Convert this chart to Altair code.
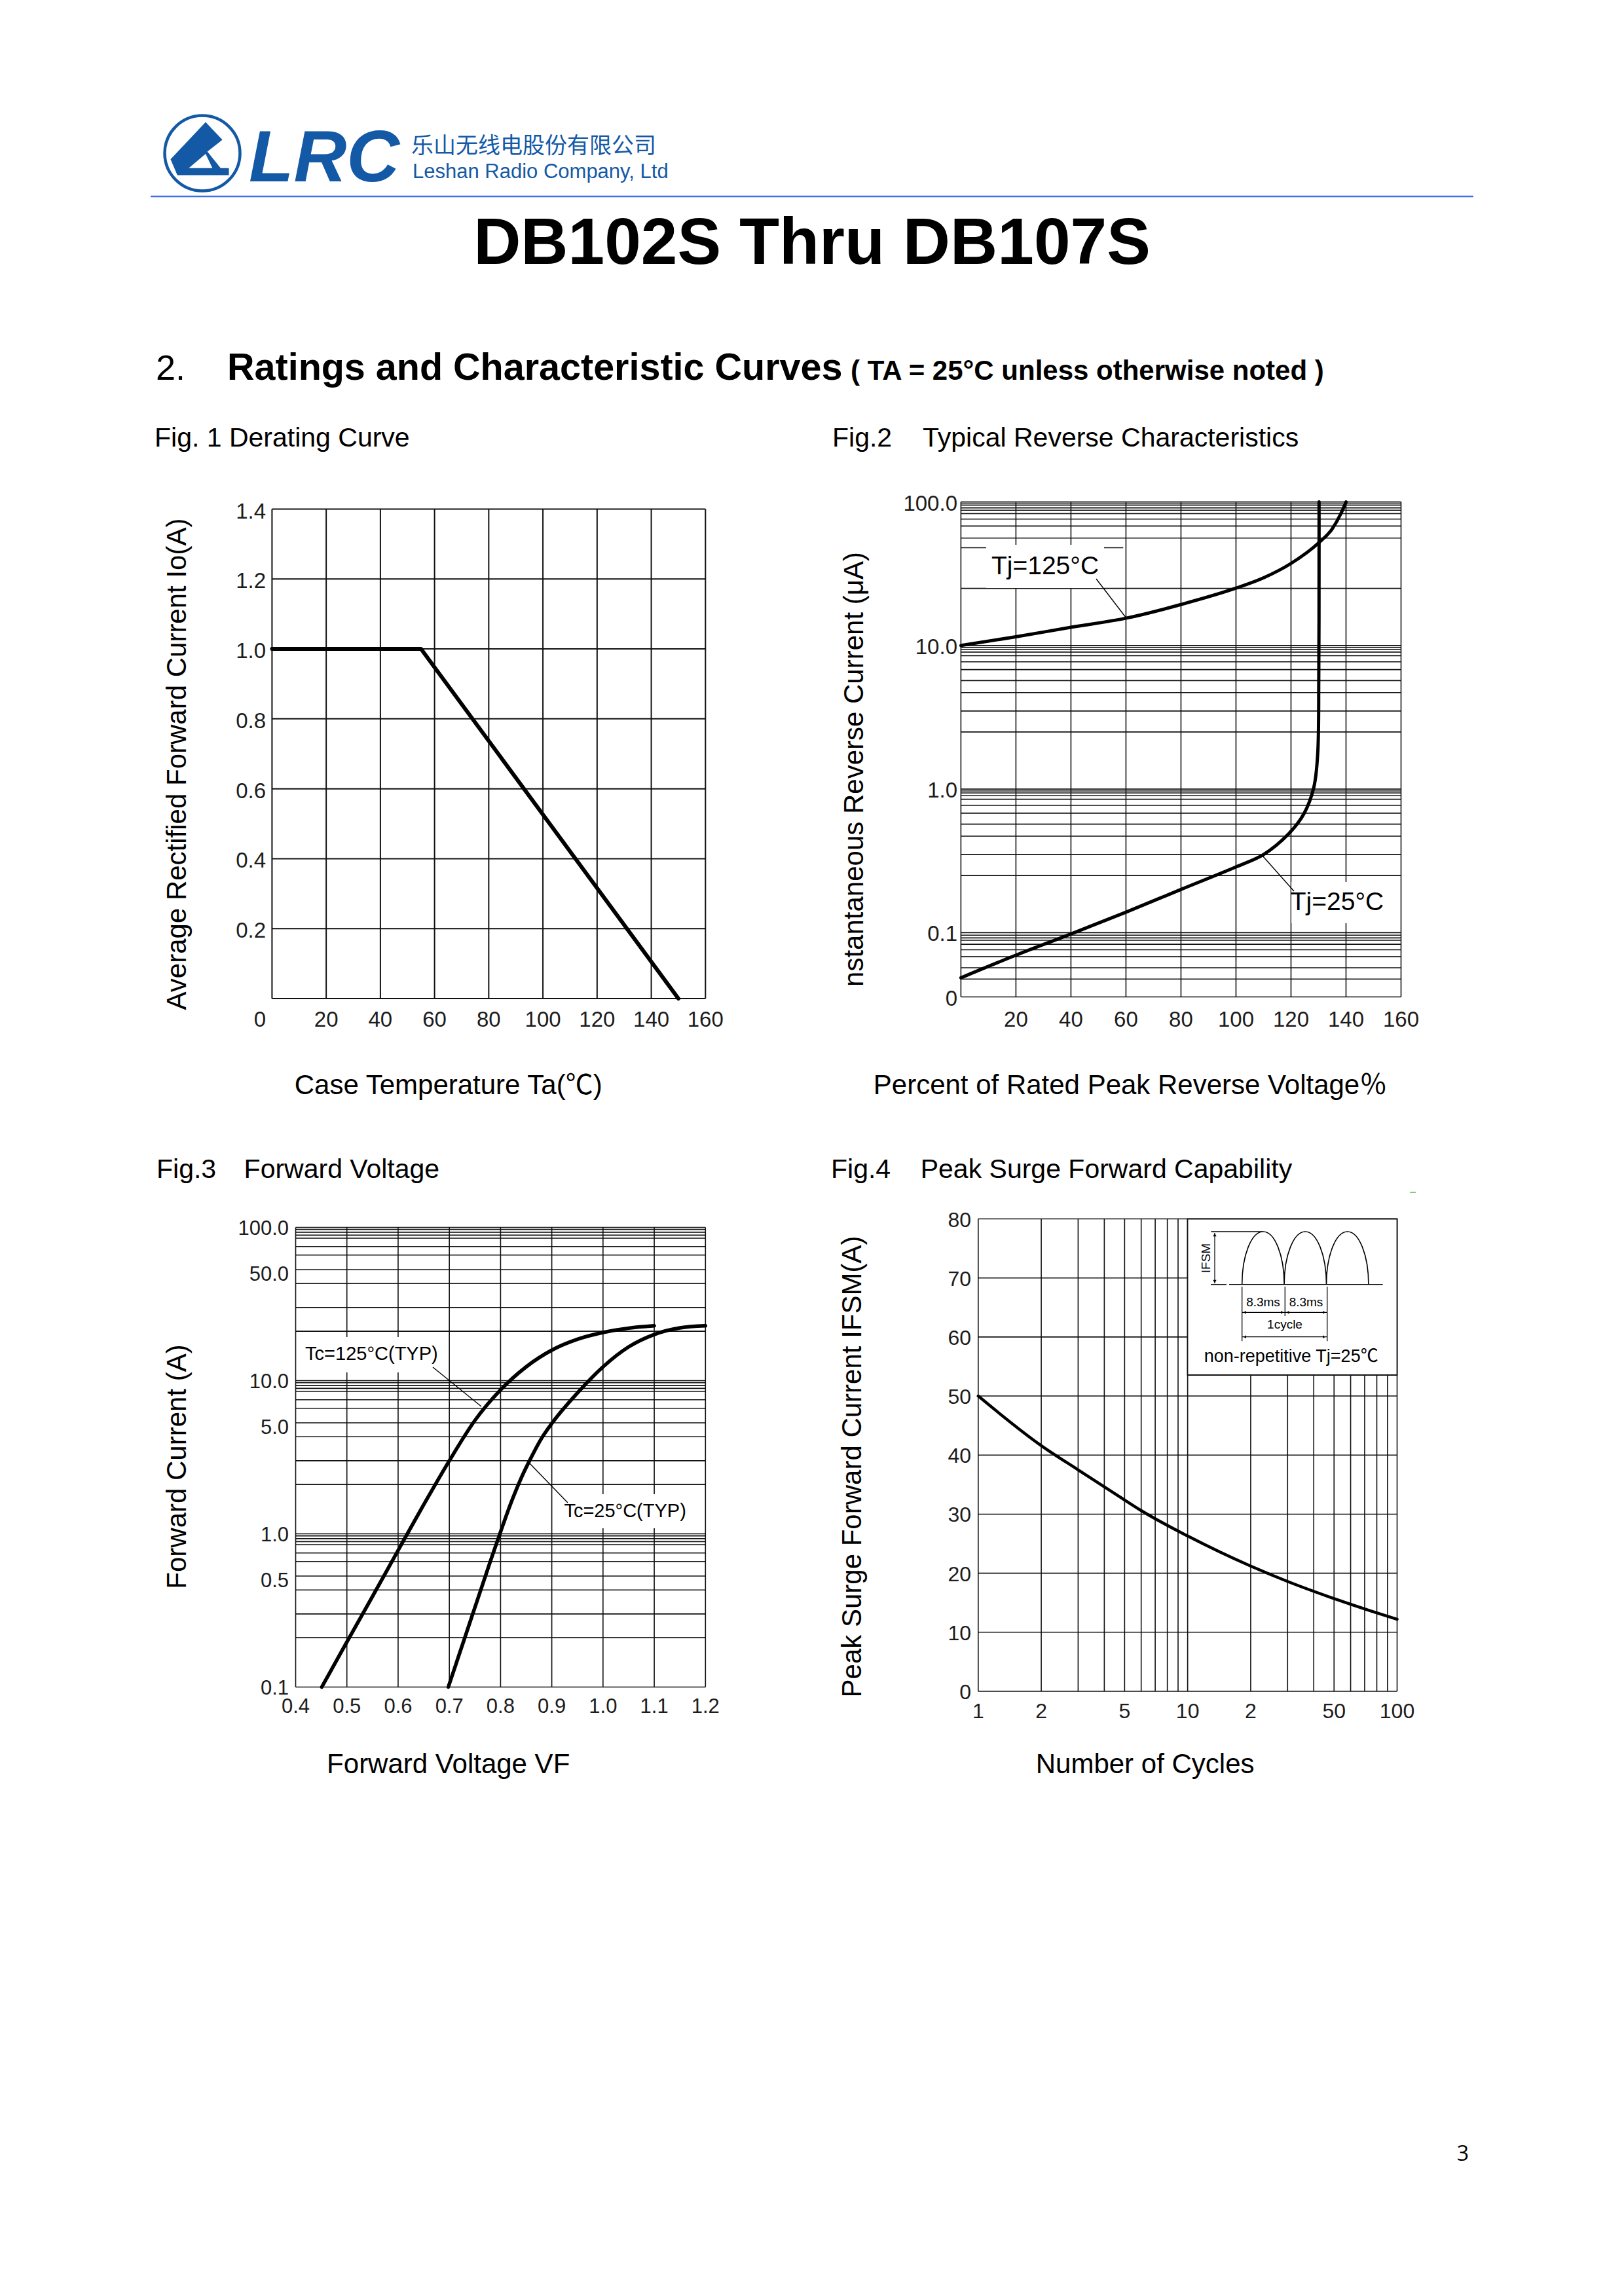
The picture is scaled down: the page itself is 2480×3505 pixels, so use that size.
import altair as alt
import pandas as pd

M = 8  # page margin of the html page

# ---------------- data ----------------
# Fig.1  Derating curve
f1_temp = [0, 55, 150]
f1_io = [1.0, 1.0, 0.0]
f1_xgrid = [0, 20, 40, 60, 80, 100, 120, 140, 160]
f1_ygrid = [0.0, 0.2, 0.4, 0.6, 0.8, 1.0, 1.2, 1.4]
f1_xticks = [20, 40, 60, 80, 100, 120, 140, 160]
f1_xtick_labels = ["20", "40", "60", "80", "100", "120", "140", "160"]
f1_yticks = [0.2, 0.4, 0.6, 0.8, 1.0, 1.2, 1.4]
f1_ytick_labels = ["0.2", "0.4", "0.6", "0.8", "1.0", "1.2", "1.4"]

# Fig.2  Typical reverse characteristics
f2_pct_125 = [0, 20, 40, 60, 80, 100, 110, 120, 130, 135, 138, 140]
f2_ir_125 = [10, 11.5, 13.4, 15.5, 19.3, 25.1, 29.6, 37.3, 51.8, 65, 82, 100]
f2_pct_25 = [0, 20, 40, 60, 80, 100, 110, 119, 124.7, 128.3, 129.7, 130.1, 130.2, 130.2]
f2_ir_25 = [0.0485, 0.0697, 0.098, 0.139, 0.2, 0.287, 0.35, 0.485, 0.674, 1.03, 1.75, 6.1, 44, 100]
f2_xgrid = [0, 20, 40, 60, 80, 100, 120, 140, 160]
f2_ygrid = [0.0357, 0.0475, 0.057, 0.068, 0.076, 0.083, 0.0885, 0.092, 0.096,
            0.1, 0.25, 0.35, 0.47, 0.57, 0.68, 0.77, 0.85, 0.90, 0.94, 0.97,
            1.0, 2.5, 3.5, 4.7, 5.7, 6.8, 7.7, 8.5, 9.0, 9.4, 9.7,
            10, 25, 56, 68, 76, 83, 87.5, 91, 95, 97, 100]
f2_ygrid_partial = [48]
f2_xticks = [20, 40, 60, 80, 100, 120, 140, 160]
f2_xtick_labels = ["20", "40", "60", "80", "100", "120", "140", "160"]
f2_yticks = [0.0357, 0.1, 1, 10, 100]
f2_ytick_labels = ["0", "0.1", "1.0", "10.0", "100.0"]

# Fig.3  Forward voltage
f3_vf_125 = [0.451, 0.5, 0.55, 0.6, 0.65, 0.7, 0.75, 0.8, 0.85, 0.9, 0.95, 1.0, 1.05, 1.1]
f3_if_125 = [0.1, 0.197, 0.39, 0.78, 1.55, 3.0, 5.5, 8.7, 12.3, 15.8, 18.6, 20.6, 22.0, 22.8]
f3_vf_25 = [0.698, 0.72, 0.74, 0.76, 0.78, 0.80, 0.82, 0.84, 0.86, 0.88, 0.9, 0.95, 1.0,
            1.05, 1.1, 1.15, 1.2]
f3_if_25 = [0.1, 0.166, 0.263, 0.417, 0.66, 1.03, 1.58, 2.3, 3.16, 4.2, 5.25, 8.3, 12.3,
            16.6, 20.0, 22.1, 22.8]
f3_xgrid = [0.4, 0.5, 0.6, 0.7, 0.8, 0.9, 1.0, 1.1, 1.2]
f3_ygrid = [0.1, 0.21, 0.30, 0.43, 0.53, 0.66, 0.75, 0.85, 0.89, 0.93, 0.97,
            1.0, 2.1, 3.0, 4.3, 5.3, 6.6, 7.5, 8.5, 8.9, 9.3, 9.7,
            10, 21, 30, 43, 53, 66, 75, 85, 89, 93, 97, 100]
f3_xticks = [0.4, 0.5, 0.6, 0.7, 0.8, 0.9, 1.0, 1.1, 1.2]
f3_xtick_labels = ["0.4", "0.5", "0.6", "0.7", "0.8", "0.9", "1.0", "1.1", "1.2"]
f3_yticks = [0.1, 0.5, 1, 5, 10, 50, 100]
f3_ytick_labels = ["0.1", "0.5", "1.0", "5.0", "10.0", "50.0", "100.0"]

# Fig.4  Peak surge forward capability
f4_cycles = [1, 2, 3, 5, 6, 10, 20, 30, 50, 75, 100]
f4_ifsm = [50, 41.6, 37.5, 32.4, 30.6, 26.3, 21.2, 18.6, 15.7, 13.6, 12.2]
f4_xgrid = [1, 2, 3, 4, 5, 6, 7, 8, 9, 10, 20, 30, 40, 50, 60, 70, 80, 90, 100]
f4_ygrid = [0, 10, 20, 30, 40, 50, 60, 70, 80]
f4_xticks = [1, 2, 5, 10, 20, 50, 100]
f4_xtick_labels = ["1", "2", "5", "10", "2", "50", "100"]
f4_yticks = [0, 10, 20, 30, 40, 50, 60, 70, 80]
f4_ytick_labels = ["0", "10", "20", "30", "40", "50", "60", "70", "80"]

# ---------------- styles ----------------
SANS = "Liberation Sans, Arial, Noto Sans CJK SC, sans-serif"
NARROW = SANS
CJK = "Noto Sans CJK SC, sans-serif"
BLUE = "#1459a6"
RULE_BLUE = "#3d70e8"
GRID = "#111111"
TICK = "#1c1c1c"


def px(v):
    return v - M


# panels: domain / pixel range of the scales
P1 = dict(xt="linear", xd=[0, 160], xr=[px(415.4), px(1077.3)],
          yt="linear", yd=[0, 1.4], yr=[px(1525), px(777.5)])
P2 = dict(xt="linear", xd=[0, 160], xr=[px(1467.4), px(2139.5)],
          yt="log", yd=[0.0357, 100], yr=[px(1522.5), px(766.6)])
P3 = dict(xt="linear", xd=[0.4, 1.2], xr=[px(451.5), px(1077.3)],
          yt="log", yd=[0.1, 100], yr=[px(2576.5), px(1874.5)])
P4 = dict(xt="log", xd=[1, 100], xr=[px(1493.8), px(2133.5)],
          yt="linear", yd=[0, 80], yr=[px(2583), px(1861.5)])


def sc(t, d, r):
    if t == "log":
        return alt.Scale(type="log", domain=d, range=r, nice=False)
    return alt.Scale(type=t, domain=d, range=r, nice=False, zero=False)


def ex(P, f):
    return alt.X(f, type="quantitative", scale=sc(P["xt"], P["xd"], P["xr"]), axis=None)


def ey(P, f):
    return alt.Y(f, type="quantitative", scale=sc(P["yt"], P["yd"], P["yr"]), axis=None)


def vgrid(P, vals, w=1.6):
    df = pd.DataFrame({"v": vals, "lo": P["yd"][0], "hi": P["yd"][1]})
    return alt.Chart(df).mark_rule(color=GRID, strokeWidth=w).encode(
        x=ex(P, "v"), y=ey(P, "lo"), y2=alt.Y2("hi"))


def hgrid(P, vals, w=1.6, lo=None, hi=None):
    lo = P["xd"][0] if lo is None else lo
    hi = P["xd"][1] if hi is None else hi
    df = pd.DataFrame({"v": vals, "lo": lo, "hi": hi})
    return alt.Chart(df).mark_rule(color=GRID, strokeWidth=w).encode(
        y=ey(P, "v"), x=ex(P, "lo"), x2=alt.X2("hi"))


def curve(P, xs, ys, w, interp="monotone"):
    df = pd.DataFrame({"x": xs, "y": ys, "i": list(range(len(xs)))})
    return alt.Chart(df).mark_line(color="black", strokeWidth=w, interpolate=interp,
                                   strokeCap="round", strokeJoin="round").encode(
        x=ex(P, "x"), y=ey(P, "y"), order=alt.Order("i:Q"))


def xlabels(P, vals, labs, ypix, size):
    df = pd.DataFrame({"v": vals, "t": labs})
    return alt.Chart(df).mark_text(font=NARROW, fontSize=size, color=TICK,
                                   align="center", baseline="middle").encode(
        x=ex(P, "v"), y=alt.value(px(ypix)), text="t:N")


def ylabels(P, vals, labs, xpix, size, dy=0):
    df = pd.DataFrame({"v": vals, "t": labs})
    return alt.Chart(df).mark_text(font=NARROW, fontSize=size, color=TICK,
                                   align="right", baseline="middle", dy=dy).encode(
        y=ey(P, "v"), x=alt.value(px(xpix)), text="t:N")


def txt(s, x, y, size, font=SANS, weight="normal", align="left", baseline="alphabetic",
        angle=0, color="black", style="normal"):
    return alt.Chart(pd.DataFrame({"t": [s]})).mark_text(
        font=font, fontSize=size, fontWeight=weight, fontStyle=style, align=align,
        baseline=baseline, angle=angle, color=color).encode(
        x=alt.value(px(x)), y=alt.value(px(y)), text="t:N")


def seg(x1, y1, x2, y2, w=1.4, color="black"):
    return alt.Chart(pd.DataFrame({"a": [0]})).mark_rule(color=color, strokeWidth=w).encode(
        x=alt.value(px(x1)), y=alt.value(px(y1)), x2=alt.value(px(x2)), y2=alt.value(px(y2)))


def box(x1, y1, x2, y2, stroke=None, w=1.6):
    kw = dict(fill="white")
    if stroke:
        kw.update(stroke=stroke, strokeWidth=w)
    return alt.Chart(pd.DataFrame({"a": [0]})).mark_rect(**kw).encode(
        x=alt.value(px(x1)), y=alt.value(px(y1)), x2=alt.value(px(x2)), y2=alt.value(px(y2)))


def symbol(shape, x, y, size, fill=None, stroke=None, w=1.5):
    kw = dict(shape=shape, size=size, opacity=1)
    if fill:
        kw.update(filled=True, fill=fill, strokeWidth=0)
    else:
        kw.update(filled=False, stroke=stroke, strokeWidth=w, fillOpacity=0)
    return alt.Chart(pd.DataFrame({"a": [0]})).mark_point(**kw).encode(
        x=alt.value(px(x)), y=alt.value(px(y)))


layers = []

# ---------------- header ----------------
LOGO = ("M -0.99 0.36 L 0.20 -0.90 L 0.77 -0.30 L 0.26 0.10 L 0.71 0.66 "
        "L 0.99 0.66 L 0.99 0.90 L -0.76 0.90 Z")
LOGO_HOLE = "M -0.37 0.66 L 0.20 0.18 L 0.43 0.66 Z"
layers += [
    symbol("circle", 309, 234, 115 * 115, stroke=BLUE, w=4.5),
    symbol(LOGO, 305, 227, 90 * 90, fill=BLUE),
    symbol(LOGO_HOLE, 305, 227, 90 * 90, fill="white"),
    txt("LRC", 380, 277, 112, weight="bold", style="italic", color=BLUE),
    txt("乐山无线电股份有限公司", 628, 224, 34, font=CJK, baseline="middle", color=BLUE),
    txt("Leshan Radio Company, Ltd", 630, 272, 31, color=BLUE),
    seg(230, 300, 2250, 300, w=2.5, color=RULE_BLUE),
    txt("DB102S Thru DB107S", 1240, 403, 100, weight="bold", align="center"),
    txt("2.", 238, 580, 54),
    txt("Ratings and Characteristic Curves", 347, 580, 57.5, weight="bold"),
    txt("( TA = 25°C unless otherwise noted )", 1299, 580, 42, weight="bold"),
    txt("Fig. 1 Derating Curve", 236, 682, 41),
    txt("Fig.2", 1271, 682, 41),
    txt("Typical Reverse Characteristics", 1409, 682, 41),
    txt("Fig.3", 239, 1799, 41),
    txt("Forward Voltage", 372.6, 1799, 41),
    txt("Fig.4", 1269, 1799, 41),
    txt("Peak Surge Forward Capability", 1405.7, 1799, 41),
    txt("3", 2234, 3300, 32, font="Open Sans, Noto Sans, sans-serif", align="center"),
    seg(2153, 1821, 2162, 1821, w=1.5, color="#5cb85c"),
]

# ---------------- Fig.1 ----------------
layers += [
    vgrid(P1, f1_xgrid, w=2),
    hgrid(P1, f1_ygrid, w=2),
    curve(P1, f1_temp, f1_io, 6, interp="linear"),
    xlabels(P1, f1_xticks, f1_xtick_labels, 1557.5, 33),
    txt("0", 397, 1557.5, 33, font=NARROW, align="center", baseline="middle", color=TICK),
    ylabels(P1, f1_yticks, f1_ytick_labels, 406, 33, dy=4),
    txt("Case Temperature Ta(℃)", 684.7, 1657.5, 42, align="center", baseline="middle"),
    txt("Average Rectified Forward Current Io(A)", 271, 1167, 42, align="center",
        baseline="middle", angle=270),
]

# ---------------- Fig.2 ----------------
layers += [
    vgrid(P2, f2_xgrid),
    hgrid(P2, f2_ygrid),
    hgrid(P2, f2_ygrid_partial, hi=59),
    box(1506, 832, 1686, 898),
    box(1972, 1347, 2112, 1410),
    seg(1674, 884, 1720, 944),
    seg(1928, 1307, 1976, 1361),
    curve(P2, f2_pct_125, f2_ir_125, 5),
    curve(P2, f2_pct_25, f2_ir_25, 5, interp="catmull-rom"),
    txt("Tj=125°C", 1596, 865, 39, align="center", baseline="middle"),
    txt("Tj=25°C", 2042, 1378, 39, align="center", baseline="middle"),
    xlabels(P2, f2_xticks, f2_xtick_labels, 1557.5, 33),
    ylabels(P2, f2_yticks, f2_ytick_labels, 1462, 33, dy=3),
    txt("Percent of Rated Peak Reverse Voltage％", 1726, 1657.5, 42, align="center",
        baseline="middle"),
    txt("nstantaneous Reverse Current (μA)", 1305, 1175, 42, align="center",
        baseline="middle", angle=270),
]

# ---------------- Fig.3 ----------------
layers += [
    vgrid(P3, f3_xgrid),
    hgrid(P3, f3_ygrid),
    box(466, 2042, 668, 2096),
    box(862, 2282, 1047, 2334),
    seg(661, 2088, 735, 2148),
    seg(808, 2234, 867, 2295),
    curve(P3, f3_vf_125, f3_if_125, 5.5),
    curve(P3, f3_vf_25, f3_if_25, 5.5),
    txt("Tc=125°C(TYP)", 567.4, 2068.4, 29, font=NARROW, align="center", baseline="middle"),
    txt("Tc=25°C(TYP)", 954.6, 2307.6, 29, font=NARROW, align="center", baseline="middle"),
    xlabels(P3, f3_xticks, f3_xtick_labels, 2607.3, 31),
    ylabels(P3, f3_yticks, f3_ytick_labels, 441, 31, dy=2),
    txt("Forward Voltage VF", 684.7, 2694.7, 42, align="center", baseline="middle"),
    txt("Forward Current (A)", 271, 2240, 42, align="center", baseline="middle", angle=270),
]

# ---------------- Fig.4 ----------------
k = 0.5523
hump_x = [-0.966, -0.322, 0.322, 0.966]
b, h, a = 0.4035, 0.807, 0.322
wave = "M %.3f %.3f" % (hump_x[0], b)
for x0 in hump_x[:3]:
    wave += (" C %.3f %.3f %.3f %.3f %.3f %.3f" % (x0, b - k * h, x0 + a - k * a, b - h, x0 + a, b - h))
    wave += (" C %.3f %.3f %.3f %.3f %.3f %.3f" % (x0 + a + k * a, b - h, x0 + 2 * a, b - k * h, x0 + 2 * a, b))

layers += [
    vgrid(P4, f4_xgrid),
    hgrid(P4, f4_ygrid),
    box(1813.5, 1861.5, 2133.5, 2100, stroke=GRID, w=1.8),
    curve(P4, f4_cycles, f4_ifsm, 4.5),
    xlabels(P4, f4_xticks, f4_xtick_labels, 2613.7, 32),
    ylabels(P4, f4_yticks, f4_ytick_labels, 1483, 32, dy=2),
    txt("Number of Cycles", 1748.6, 2694.7, 42, align="center", baseline="middle"),
    txt("Peak Surge Forward Current IFSM(A)", 1302, 2240, 42, align="center",
        baseline="middle", angle=270),
    # inset
    symbol(wave, 1993.3, 1921.35, 200 * 200, stroke="black", w=1.6),
    seg(1849, 1961.7, 1873, 1961.7, w=1.3),
    seg(1877, 1961.7, 2111.7, 1961.7, w=1.3),
    seg(1849.3, 1881, 1928, 1881, w=1.3),
    seg(1855, 1883, 1855, 1960, w=1.2),
    symbol("triangle-up", 1855, 1886, 30, fill="black"),
    symbol("triangle-down", 1855, 1957, 30, fill="black"),
    txt("IFSM", 1842, 1921.5, 19, font=NARROW, align="center", baseline="middle", angle=270),
    seg(1896.7, 1965, 1896.7, 2048.3, w=1.3),
    seg(1962.3, 1965, 1962.3, 2010, w=1.3),
    seg(2026.7, 1965, 2026.7, 2048.3, w=1.3),
    txt("8.3ms", 1929, 1989.3, 19, font=NARROW, align="center", baseline="middle"),
    txt("8.3ms", 1994.5, 1989.3, 19, font=NARROW, align="center", baseline="middle"),
    seg(1897, 2004.3, 2026, 2004.3, w=1.2),
    symbol("triangle-right", 1958, 2004.3, 22, fill="black"),
    symbol("triangle-left", 1901, 2004.3, 22, fill="black"),
    symbol("triangle-right", 2022, 2004.3, 22, fill="black"),
    symbol("triangle-left", 1966.5, 2004.3, 22, fill="black"),
    txt("1cycle", 1962, 2022.7, 19, font=NARROW, align="center", baseline="middle"),
    seg(1897, 2041.7, 2026, 2041.7, w=1.2),
    symbol("triangle-left", 1901, 2041.7, 22, fill="black"),
    symbol("triangle-right", 2022, 2041.7, 22, fill="black"),
    txt("non-repetitive Tj=25℃", 1971.7, 2071.7, 27, font=NARROW, align="center",
        baseline="middle"),
]

chart = alt.layer(*layers).resolve_scale(x="independent", y="independent").properties(
    width=2464, height=3480, padding=0, background="white",
    autosize=alt.AutoSizeParams(type="none"),
).configure_view(stroke=None)

chart.save("out.html", embed_options={"renderer": "svg", "actions": False})
